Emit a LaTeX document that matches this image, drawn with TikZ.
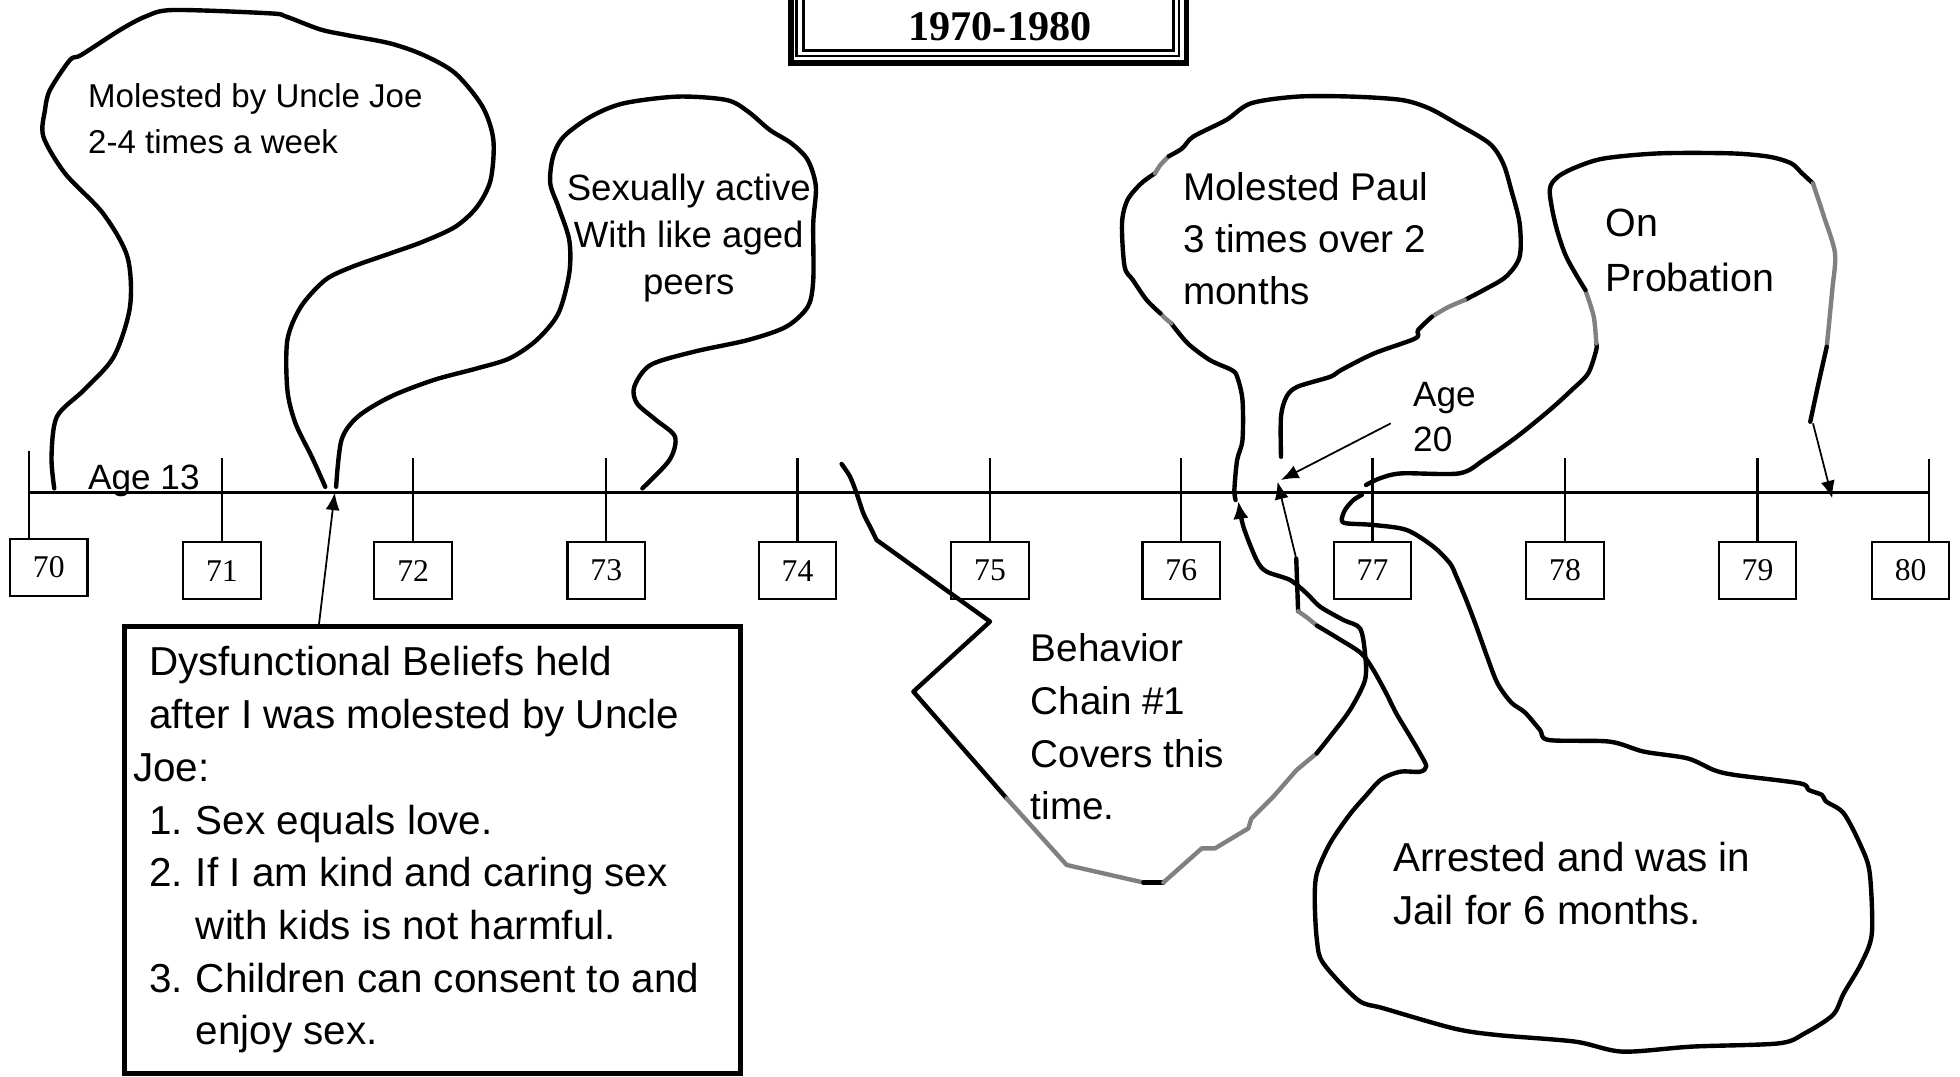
\documentclass[tikz,border=0pt]{standalone}
\usepackage{fontspec}
\setmainfont{Liberation Sans}
\newfontfamily\yearfont{Liberation Serif}
\usetikzlibrary{arrows.meta}

\begin{document}
\begin{tikzpicture}[x=0.0125cm, y=-0.0125cm,
		blob/.style={line width=1.25pt, line join=round, line cap=round},
		faded/.style={blob, draw=black!50},
		yearbox/.style={draw, line width=0.6pt, minimum width=0.775cm, minimum height=0.575cm, inner sep=0pt, font=\yearfont\fontsize{9}{10}\selectfont},
		tick/.style={line width=0.6pt},
		pointer/.style={line width=0.5pt, -{Latex[length=5pt, width=4pt]}},
		hand/.style={inner sep=0pt, anchor=base west, align=left}]
			\useasboundingbox (0,0) rectangle (1568,861);
			
			\draw[line width=1.6pt] (633,-30) rectangle (949.3,50.4);
			\draw[line width=0.8pt] (637.3,-30) rectangle (943.2,44.8);
			\draw[line width=0.7pt] (642.7,-30) rectangle (938.7,40.4);
			\node[font=\yearfont\bfseries\fontsize{12}{14}\selectfont, inner sep=0pt] (title) at (800,21) {1970-1980};
			
			\coordinate (start) at (23,394);
			\coordinate (end) at (1543.5,394);
			\draw[tick] (start) -- (end);
			
			\node[yearbox] (y70) at (39,454) {70};
			\node[yearbox] (y71) at (177.5,456.5) {71};
			\node[yearbox] (y72) at (330.5,456.5) {72};
			\node[yearbox] (y73) at (485,456.5) {73};
			\node[yearbox] (y74) at (638,456.5) {74};
			\node[yearbox] (y75) at (792,456.5) {75};
			\node[yearbox] (y76) at (945,456.5) {76};
			\node[yearbox] (y77) at (1098,456.5) {77};
			\node[yearbox] (y78) at (1252,456.5) {78};
			\node[yearbox] (y79) at (1406,456.5) {79};
			\node[yearbox] (y80) at (1528.5,456.5) {80};
			
			\draw[tick] (23,361) -- (23,431);
			\draw[tick] (y71.north) -- ++(0,-66);
			\draw[tick] (y72.north) -- ++(0,-66);
			\draw[tick] (y73.north) -- ++(0,-66);
			\draw[tick] (y74.north) -- ++(0,-66);
			\draw[tick] (y75.north) -- ++(0,-66);
			\draw[tick] (y76.north) -- ++(0,-66);
			\draw[tick] (y77.north) -- ++(0,-66);
			\draw[tick] (y78.north) -- ++(0,-66);
			\draw[tick] (y79.north) -- ++(0,-66);
			\draw[tick] (1543.5,367) -- (1543.5,433.5);
			
			\draw[blob] plot[smooth] coordinates {(43.4,390.7) (41.2,365.4) (45.5,333.4) (67.2,312) (91,285.4) (104,245.4) (101.9,205.4) (82.4,170.7) (52,138.7) (34.7,109.3) (36,88) (40,72) (56,48) (65,44) (96,24) (117,13) (139,8) (216,10.7) (229,13.3) (256,23.5) (277,28) (312,34.7) (338.7,44) (364.3,58.7) (386,85.3) (394.7,112) (392.5,144) (381.7,165.4) (364.3,181.4) (338.3,193.4) (312.3,202.7) (281.9,213.4) (260.2,224) (240.7,245.4) (229.9,272) (229.9,312) (236.4,338.7) (249.4,365.4) (260.2,389.4)};
			
			\draw[blob] plot[smooth] coordinates {(268.9,389.4) (273.2,352) (286.2,333.4) (312.3,317.4) (347,304) (381.7,294.7) (407.7,286.7) (429.4,272) (446.7,250.7) (455.4,218.7) (455.4,192) (446.7,165.4) (440.2,146.7) (442.4,125.4) (451,109.3) (472.7,93.3) (498.8,82.7) (542.1,77.3) (581.2,80) (598.5,89.3) (615.9,104) (633.2,114.7) (646.2,128) (652.7,149.3) (650.6,178.7) (650.6,224) (646.2,245.4) (628.9,261.4) (598.5,272) (555.1,281.4) (520.4,292) (507.4,309.4) (509.6,322.7) (524.8,336) (540,349.4) (535.6,368) (513.9,390.7)};
			
			\draw[blob] plot[smooth] coordinates {(673.3,371.2) (680,381.3) (685.3,394.7) (690.7,410.7) (696,421.3) (701.3,432)} -- (792,497.3) -- (730.7,553.3) -- (805.3,638.7);
			\draw[faded] (805.3,638.7) -- (853.3,692) -- (914.7,706);
			\draw[blob] (914.7,706) -- (930.7,706);
			\draw[faded] (930.7,706) -- (961.4,678.7) -- (972,678.7) -- (998.7,662.7) -- (1001,655) -- (1018.7,637.3) -- (1037.3,616) -- (1053.3,602.7);
			\draw[blob, -{Latex[length=5pt, width=4.4pt]}] plot[smooth] coordinates {(1053.3,602.7) (1064,589.3) (1080,568) (1092,544) (1092,522.7) (1088,502.7) (1074.7,496) (1056,485.3) (1045.3,474.7) (1032,464) (1013.3,457.3) (1005.3,448) (994.7,421.3) (990.7,401)};
			
			\draw[blob] plot[smooth] coordinates {(988.5,400) (987.5,392) (989.7,368) (994,352) (994,320) (989.7,301.4) (985.3,296) (967.8,288) (950.2,274.7) (937,258.7)};
			\draw[faded] plot[smooth] coordinates {(937,258.7) (932,254.5) (928.3,250.7)};
			\draw[blob] plot[smooth] coordinates {(928.3,250.7) (917.3,240) (906.3,224) (899.7,213.4) (897.6,178.7) (902,160) (913,146.7) (924,138.7)};
			\draw[faded] plot[smooth] coordinates {(924,138.7) (928.3,132) (935,125)};
			\draw[blob] plot[smooth] coordinates {(935,125) (945.8,118.7) (954.6,109.3) (981,96) (1000.7,82.7) (1038,77.3) (1081.8,77.3) (1121.3,80) (1143.3,86.7) (1165,98.7) (1191.5,114.7) (1202.5,130.7) (1209,152) (1215.7,178.7) (1215.7,205.4) (1204.7,221.4) (1187,232) (1171.8,240)};
			\draw[faded] plot[smooth] coordinates {(1171.8,240) (1158,246) (1145.5,253.4)};
			\draw[blob] plot[smooth] coordinates {(1145.5,253.4) (1134.5,264) (1132.3,270.7) (1099.4,282.7) (1073,296) (1064.3,301.4) (1038,309.4) (1029.2,317.4) (1024.8,333.4) (1024.8,365.4)};
			
			\draw[blob] plot[smooth] coordinates {(1092.8,388) (1103.8,382.7) (1121.3,378.7) (1167.4,378.7) (1187,368) (1213.5,349.4) (1239.8,328) (1257.4,312) (1270.5,298.7) (1277,280) (1277,274.7)};
			\draw[faded] plot[smooth] coordinates {(1277,274.7) (1275,253.4) (1268.3,232)};
			\draw[blob] plot[smooth] coordinates {(1268.3,232) (1253,205.4) (1244.2,178.7) (1239.8,152) (1246.4,141.4) (1261.8,133.4) (1283.7,126.7) (1327.6,122.7) (1384.6,122.7) (1415.3,125.4) (1433,130.7) (1441.7,138.7) (1450.4,146.7)};
			\draw[faded] plot[smooth] coordinates {(1450.4,146.7) (1459.2,173.4) (1468,202.7) (1465.8,232) (1461.4,277.4)};
			\draw[blob] plot[smooth] coordinates {(1461.4,277.4) (1454.8,306.7) (1448.2,337.4)};
			
			\draw[blob] (1037,447) -- (1038.5,489);
			\draw[faded] (1038.5,489) -- (1045.6,494) -- (1053.5,500.5);
			\draw[blob] plot[smooth] coordinates {(1053.5,500.5) (1071,511) (1089,522.7) (1098.7,536) (1109,554.7) (1117,570.7) (1128,589) (1136,602.7) (1141,613) (1136,617.4) (1120,617.4) (1105,623.5) (1092,637.4) (1079.5,652) (1064,674.7) (1053.5,698.7) (1051.8,720) (1053.5,752) (1058.7,770.7) (1086.4,800) (1107,806.7) (1162.8,822.7) (1197.5,828) (1260,833.3) (1298,841.3) (1353.5,837.3) (1423,834.7) (1443.7,826.7) (1466.3,812) (1475,794.7) (1489,770.7) (1497.5,746.7) (1495.8,698.7) (1489,677.4) (1475,650.7) (1461,641.3) (1457.6,636) (1447,632) (1440,626.7) (1388,620) (1371,616) (1350,606.7) (1315,601.3) (1287.6,593.3) (1239,592) (1232,584) (1220,570) (1209,562) (1198,546.7) (1189.7,525.4) (1181,501) (1173,480) (1165,461) (1160,450.7) (1146.7,437.3) (1125.3,424) (1098.7,420) (1077.3,418.7) (1073.4,416) (1076,408) (1082.7,400) (1089.4,396)};
			
			\node[draw, line width=1.4pt, minimum width=6.15cm, minimum height=4.475cm, inner sep=0pt] (beliefs) at (346,680) {};
			
			\coordinate (beliefsfoot) at (255,501);
			\coordinate (age13mark) at (267.8,394);
			\coordinate (jailfoot) at (1037,447);
			\coordinate (jailmark) at (1022,385.3);
			\coordinate (age20foot) at (1112.6,338.7);
			\coordinate (age20mark) at (1024.8,384);
			\coordinate (probationfoot) at (1450.4,338.7);
			\coordinate (probationmark) at (1465.8,398.7);
			
			\draw[pointer] (beliefsfoot) -- (age13mark);
			\draw[pointer] (jailfoot) -- (jailmark);
			\draw[pointer] (age20foot) -- (age20mark);
			\draw[pointer] (probationfoot) -- (probationmark);
			
			\node[hand, font=\fontsize{9.4}{13.2}\selectfont] (uncle) at (70,123) {Molested by Uncle Joe\\2-4 times a week};
			\node[hand, font=\fontsize{10}{12}\selectfont] (age13) at (70,392) {Age 13};
			\node[hand, anchor=base, align=center, font=\fontsize{10.4}{13.5}\selectfont] (peers) at (551,236) {Sexually active\\With like aged\\peers};
			\node[hand, font=\fontsize{11}{14.9}\selectfont] (paul) at (946,244) {Molested Paul\\3 times over 2\\months};
			\node[hand, font=\fontsize{11.2}{15.6}\selectfont] (probation) at (1284,233) {On\\Probation};
			\node[hand, font=\fontsize{10}{12.8}\selectfont] (age20) at (1130,361) {Age\\20};
			\node[hand, font=\fontsize{11}{15}\selectfont] (chain) at (824,656) {Behavior\\Chain \#1\\Covers this\\time.};
			\node[hand, font=\fontsize{11.5}{15.2}\selectfont] (jail) at (1114,740) {Arrested and was in\\Jail for 6 months.};
			\node[hand, font=\fontsize{11.5}{15}\selectfont] (beliefstext) at (118.7,836) {Dysfunctional Beliefs held\\after I was molested by Uncle\\\hspace*{-4.5pt}Joe:\\\makebox[13.3pt][l]{1.}Sex equals love.\\\makebox[13.3pt][l]{2.}If I am kind and caring sex\\\hspace*{13.3pt}with kids is not harmful.\\\makebox[13.3pt][l]{3.}Children can consent to and\\\hspace*{13.3pt}enjoy sex.};
\end{tikzpicture}
\end{document}
